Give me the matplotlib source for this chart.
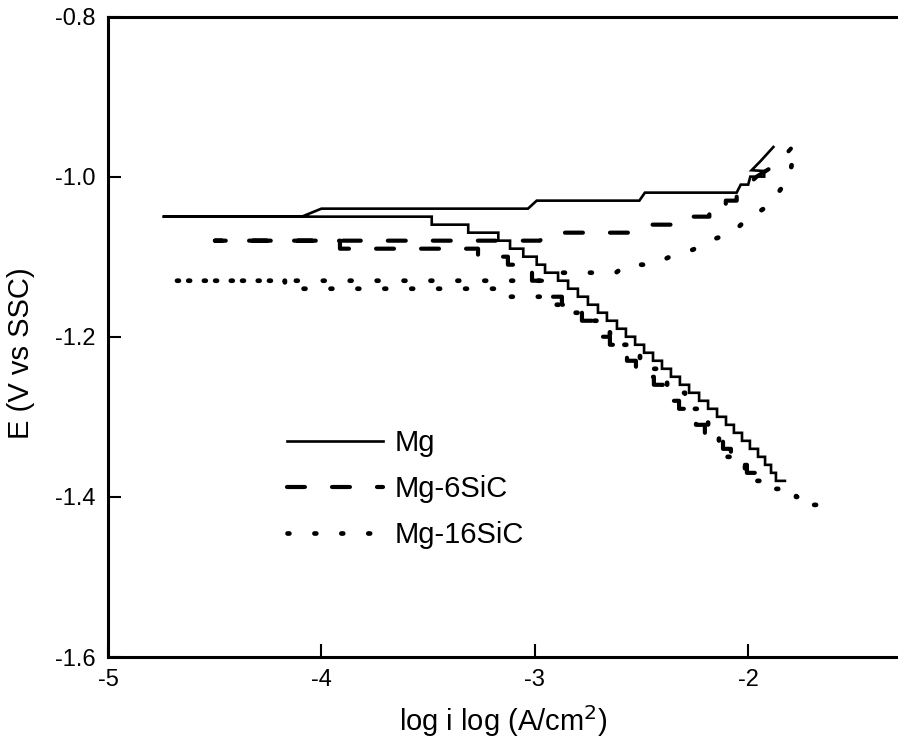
import matplotlib
matplotlib.use("Agg")
import matplotlib.pyplot as plt
from matplotlib import font_manager

# ---------------------------------------------------------------------------
# data (x = log i, E in V vs SSC)
# cathodic branches are potential staircases: left end of each step + end x
# ---------------------------------------------------------------------------
mg_cat_x = [-4.744, -3.483, -3.312, -3.171, -3.116, -3.054, -2.991, -2.952,
            -2.891, -2.844, -2.798, -2.751, -2.704, -2.662, -2.615, -2.573,
            -2.530, -2.488, -2.446, -2.404, -2.362, -2.320, -2.277, -2.230,
            -2.188, -2.146, -2.104, -2.067, -2.029, -1.992, -1.954, -1.921,
            -1.893, -1.870, -1.828]
mg_cat_e = [-1.05, -1.06, -1.07, -1.08, -1.09, -1.10, -1.11, -1.12, -1.13,
            -1.14, -1.15, -1.16, -1.17, -1.18, -1.19, -1.20, -1.21, -1.22,
            -1.23, -1.24, -1.25, -1.26, -1.27, -1.28, -1.29, -1.30, -1.31,
            -1.32, -1.33, -1.34, -1.35, -1.36, -1.37, -1.38]
mg_an_x = [-4.744, -4.092, -4.000, -3.032, -2.991, -2.510, -2.484, -2.054,
           -2.035, -2.000, -1.990, -1.925, -1.925, -1.984, -1.940, -1.882]
mg_an_e = [-1.050, -1.050, -1.040, -1.040, -1.030, -1.030, -1.020, -1.020,
           -1.010, -1.010, -1.000, -1.000, -0.993, -0.992, -0.980, -0.963]

sic6_cat_x = [-4.499, -3.913, -3.266, -3.126, -3.079, -3.013, -2.962, -2.915,
              -2.873, -2.826, -2.779, -2.732, -2.690, -2.648, -2.606, -2.568,
              -2.526, -2.484, -2.442, -2.400, -2.362, -2.324, -2.287, -2.245,
              -2.203, -2.160, -2.118, -2.081, -2.043, -2.006, -1.969]
sic6_cat_e = [-1.08, -1.09, -1.10, -1.11, -1.12, -1.13, -1.14, -1.15, -1.16,
              -1.17, -1.18, -1.19, -1.20, -1.21, -1.22, -1.23, -1.24, -1.25,
              -1.26, -1.27, -1.28, -1.29, -1.30, -1.31, -1.32, -1.33, -1.34,
              -1.35, -1.36, -1.37]
sic6_an_x = [-4.499, -2.976, -2.930, -2.507, -2.450, -2.320, -2.290, -2.182,
             -2.182, -2.105, -2.105, -2.054, -2.054, -2.030, -2.000, -1.960,
             -1.900, -1.850, -1.800]
sic6_an_e = [-1.080, -1.080, -1.070, -1.070, -1.060, -1.060, -1.050, -1.050,
             -1.040, -1.040, -1.030, -1.030, -1.020, -1.020, -1.010, -1.000,
             -0.990, -0.980, -0.965]

sic16_cat_x = [-4.709, -4.171, -3.116, -2.952, -2.858, -2.788, -2.704, -2.648,
               -2.601, -2.554, -2.507, -2.465, -2.423, -2.380, -2.338, -2.296,
               -2.254, -2.221, -2.188, -2.160, -2.137, -2.113, -2.099, -2.071,
               -2.015, -1.959, -1.874, -1.776, -1.696, -1.682]
sic16_cat_e = [-1.13, -1.14, -1.15, -1.16, -1.17, -1.18, -1.19, -1.20, -1.21,
               -1.22, -1.23, -1.24, -1.25, -1.26, -1.27, -1.28, -1.29, -1.30,
               -1.31, -1.32, -1.33, -1.34, -1.35, -1.36, -1.37, -1.38, -1.39,
               -1.40, -1.41]
sic16_an_x = [-4.709, -2.950, -2.880, -2.620, -2.570, -2.450, -2.374, -2.257,
              -2.171, -2.073, -2.010, -1.921, -1.862, -1.807, -1.781]
sic16_an_e = [-1.130, -1.130, -1.120, -1.120, -1.110, -1.110, -1.101, -1.091,
              -1.079, -1.070, -1.054, -1.039, -1.021, -1.001, -0.963]

labels = ["Mg", "Mg-6SiC", "Mg-16SiC"]
x_ticks = [-5, -4, -3, -2]
y_ticks = [-1.6, -1.4, -1.2, -1.0, -0.8]


def staircase(xs, es):
    sx, se = [], []
    for i, e in enumerate(es):
        sx += [xs[i], xs[i + 1]]
        se += [e, e]
    return sx, se


def full_path(cat_x, cat_e, an_x, an_e):
    # one continuous scan: cathodic end -> lowest current -> anodic end
    sx, se = staircase(cat_x, cat_e)
    return sx[::-1] + an_x[1:], se[::-1] + an_e[1:]


names = {f.name for f in font_manager.fontManager.ttflist}
narrow = "Liberation Sans Narrow" if "Liberation Sans Narrow" in names else "Liberation Sans"
plt.rcParams["font.family"] = ["Liberation Sans", "DejaVu Sans"]

fig = plt.figure(figsize=(8.98, 7.47), dpi=100)
ax = fig.add_axes([108 / 898, 90 / 747, 790 / 898, 640.5 / 747])

x, e = full_path(mg_cat_x, mg_cat_e, mg_an_x, mg_an_e)
l1, = ax.plot(x, e, color="black", lw=1.9, solid_joinstyle="miter")
x, e = full_path(sic6_cat_x, sic6_cat_e, sic6_an_x, sic6_an_e)
l2, = ax.plot(x, e, color="black", lw=3.0, dashes=(4.3, 6.5),
              dash_capstyle="round")
x, e = full_path(sic16_cat_x, sic16_cat_e, sic16_an_x, sic16_an_e)
l3, = ax.plot(x, e, color="black", lw=3.4, dashes=(0.4, 5.3),
              dash_capstyle="round")

ax.set_xlim(-5, -1.298)
ax.set_ylim(-1.6, -0.8)
ax.set_xticks(x_ticks)
ax.set_xticklabels([str(t) for t in x_ticks])
ax.set_yticks(y_ticks)
ax.set_yticklabels([f"{t:.1f}" for t in y_ticks])
for lab in ax.get_xticklabels() + ax.get_yticklabels():
    lab.set_family([narrow, "Liberation Sans"])
    lab.set_fontsize(17)
ax.tick_params(direction="in", length=9.5, width=1.5, pad=9,
               top=False, right=False)
ax.spines["right"].set_visible(False)
for s in ("left", "bottom", "top"):
    ax.spines[s].set_linewidth(2.2)

ax.set_xlabel("log i log (A/cm$^2$)", fontsize=21, family=[narrow, "Liberation Sans"],
              labelpad=8)
ax.set_ylabel("E (V vs SSC)", fontsize=21, family=[narrow, "Liberation Sans"])
ax.yaxis.set_label_coords(-0.093, 0.475)

ax.legend([l1, l2, l3], labels, loc="upper left", bbox_to_anchor=(0.2266, 0.356),
          frameon=False, fontsize=21, handlelength=3.3, handletextpad=0.4,
          labelspacing=0.62, borderpad=0, borderaxespad=0)

fig.savefig("out.png", dpi=100)
